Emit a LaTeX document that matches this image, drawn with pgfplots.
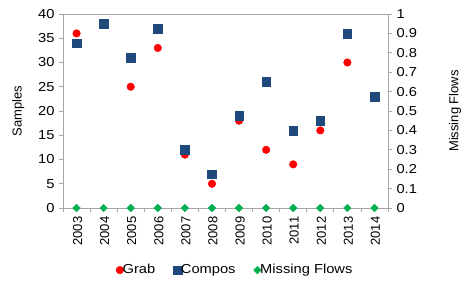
\documentclass[border=0pt]{standalone}
\usepackage{pgfplots}
\pgfplotsset{compat=1.18}
\usepackage{fontspec}
\setmainfont{Liberation Sans}
\newfontfamily\widefont[FakeStretch=1.13]{Liberation Sans}
\definecolor{grabred}{HTML}{FF0000}
\definecolor{compblue}{HTML}{1F497D}
\definecolor{missgreen}{HTML}{00B050}
\definecolor{axgray}{HTML}{A6A6A6}
\begin{document}
\fontsize{13pt}{15pt}\selectfont
\begin{tikzpicture}
\pgfplotsset{
  every axis/.append style={
    scale only axis, width=325pt, height=194pt,
    xmin=-0.5, xmax=11.5,
    tick label style={font=\fontsize{13pt}{15pt}\selectfont, text=black},
    y tick label style={font=\widefont\fontsize{13pt}{15pt}\selectfont},
    label style={font=\fontsize{13pt}{15pt}\selectfont},
    /pgf/number format/assume math mode=true,
    axis line style={axgray, line width=0.8pt},
    tick style={axgray, line width=0.8pt},
    tick align=outside,
  }
}
\begin{axis}[
  at={(0,0)}, anchor=south west,
  ymin=0, ymax=40, ytick={0,5,...,40},
  axis x line*=bottom, axis y line*=left,
  xtick={0,...,11},
  xticklabels={2003,2004,2005,2006,2007,2008,2009,2010,2011,2012,2013,2014},
  x tick label style={rotate=90, anchor=east, yshift=-1pt},
  major x tick style={draw=none},
  minor xtick={-0.5,0.5,...,11.5},
  minor tick length=4pt,
  major tick length=4pt,
  ylabel={Samples},
  ylabel style={at={(axis description cs:-0.138,0.5)}, anchor=center},
]
\addplot[only marks, mark=*, mark size=3.8pt, color=grabred, mark options={draw=grabred, fill=grabred}]
  coordinates {(0,36) (2,25) (3,33) (4,11) (5,5) (6,18) (7,12) (8,9) (9,16) (10,30)};
\addplot[only marks, mark=square*, mark size=4.3pt, color=compblue, mark options={draw=compblue, fill=compblue}]
  coordinates {(0,34) (1,38) (2,31) (3,37) (4,12) (5,7) (6,19) (7,26) (8,16) (9,18) (10,36) (11,23)};
\draw[axgray, line width=0.8pt] (axis cs:-0.5,40) -- (axis cs:11.5,40);
\end{axis}
\begin{axis}[
  at={(0,0)}, anchor=south west,
  ymin=0, ymax=1, ytick={0,0.1,...,1.0},
  yticklabel style={/pgf/number format/fixed, /pgf/number format/precision=1},
  axis x line=none, axis y line*=right,
  major tick length=4pt,
  ylabel={Missing Flows},
  ylabel style={at={(axis description cs:1.206,0.5)}, anchor=center, rotate=0},
  legend style={draw=none, fill=none, at={(0.53,-0.32)}, anchor=center,
    legend columns=3, font=\widefont\fontsize{13pt}{15pt}\selectfont,
    /tikz/every even column/.append style={column sep=16pt},
    /tikz/every odd column/.append style={column sep=-3pt}},
  legend cell align=left,
]
\addlegendimage{only marks, mark=*, mark size=3.8pt, color=grabred, mark options={fill=grabred}}
\addlegendentry{Grab}
\addlegendimage{only marks, mark=square*, mark size=4.3pt, color=compblue, mark options={fill=compblue}}
\addlegendentry{Compos}
\addplot[only marks, mark=square*, mark size=2.7pt, color=missgreen, mark options={draw=missgreen, fill=missgreen, rotate=45}]
  coordinates {(0,0) (1,0) (2,0) (3,0) (4,0) (5,0) (6,0) (7,0) (8,0) (9,0) (10,0) (11,0)};
\addlegendentry{Missing Flows}
\end{axis}
\pgfresetboundingbox
\useasboundingbox (-63pt,-76pt) rectangle (402pt,208pt);
\end{tikzpicture}
\end{document}
